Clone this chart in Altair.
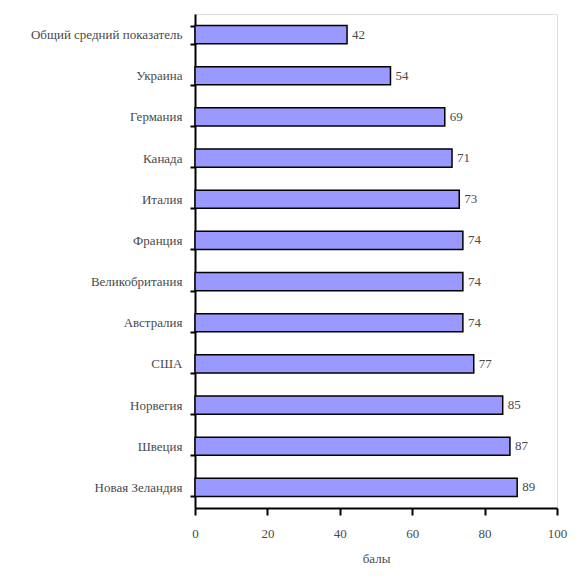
import altair as alt
import pandas as pd

categories = ["Общий средний показатель", "Украина", "Германия", "Канада", "Италия",
              "Франция", "Великобритания", "Австралия", "США", "Норвегия", "Швеция",
              "Новая Зеландия"]
values = [42, 54, 69, 71, 73, 74, 74, 74, 77, 85, 87, 89]

df = pd.DataFrame({"country": categories, "score": values})

FONT = "Liberation Serif, DejaVu Serif, serif"
TXT = "#4a4a4a"

y = alt.Y("country:N", sort=categories, title=None,
          scale=alt.Scale(paddingInner=0.56, paddingOuter=0.28),
          axis=alt.Axis(domainColor="black", domainWidth=2, tickColor="black",
                        tickWidth=2, tickSize=5, tickBand="extent",
                        labelFont=FONT, labelFontSize=13, labelColor=TXT,
                        labelPadding=8, labelLimit=300))
x = alt.X("score:Q", title="балы",
          scale=alt.Scale(domain=[0, 100]),
          axis=alt.Axis(values=[0, 20, 40, 60, 80, 100], grid=False, labelFlush=False,
                        domainColor="black", domainWidth=2, tickColor="black",
                        tickWidth=2, tickSize=7, labelFont=FONT, labelFontSize=13,
                        labelColor=TXT, labelPadding=12, titleFont=FONT,
                        titleFontSize=13, titleColor=TXT, titleFontWeight="normal",
                        titlePadding=12))

bars = alt.Chart(df).mark_bar(fill="#9999ff", stroke="black", strokeWidth=1.5).encode(x=x, y=y)
labels = alt.Chart(df).mark_text(align="left", dx=5, font=FONT, fontSize=13, color=TXT).encode(
    x="score:Q", y=alt.Y("country:N", sort=categories), text="score:Q")

chart = (bars + labels).properties(
    width=362, height=494,
    autosize=alt.AutoSizeParams(type="none"),
    padding={"left": 187, "top": 6, "right": 16, "bottom": 64},
).configure_view(stroke=None).configure(background="white", font=FONT)

chart.save("out.html", embed_options={"renderer": "svg", "actions": False})
